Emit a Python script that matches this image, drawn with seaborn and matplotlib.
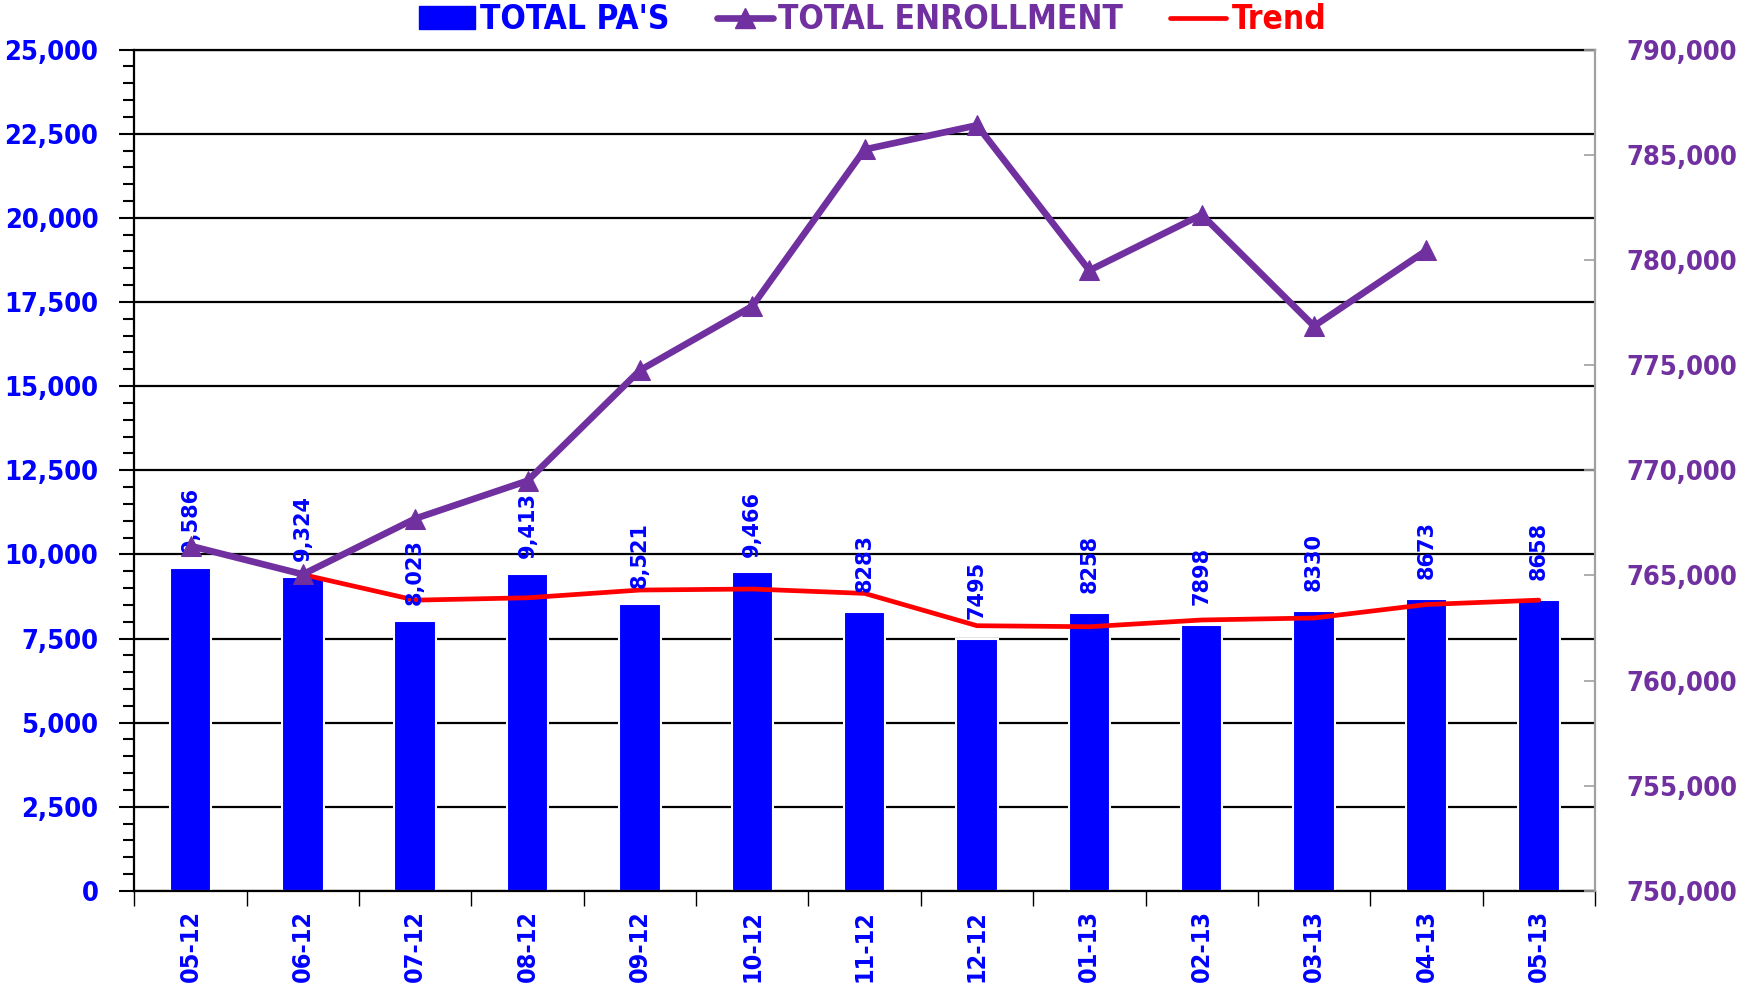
import numpy as np
import pandas as pd
import matplotlib
matplotlib.use("Agg")
import matplotlib.pyplot as plt
import matplotlib.ticker as mticker
from matplotlib.lines import Line2D
from matplotlib.patches import Patch
import seaborn as sns

# data
months = ["05-12", "06-12", "07-12", "08-12", "09-12", "10-12", "11-12",
          "12-12", "01-13", "02-13", "03-13", "04-13", "05-13"]
total_pas = [9586, 9324, 8023, 9413, 8521, 9466, 8283, 7495, 8258, 7898, 8330, 8673, 8658]
pa_labels = ["9,586", "9,324", "8,023", "9,413", "8,521", "9,466", "8283",
             "7495", "8258", "7898", "8330", "8673", "8658"]
enrollment = [766400, 765050, 767700, 769500, 774750, 777800, 785250,
              786400, 779500, 782150, 776850, 780450, np.nan]
trend = [np.nan, 9400, 8640, 8710, 8940, 8970, 8840, 7880, 7850, 8050, 8110, 8510, 8640]

BLUE = "#0000FF"
PURPLE = "#7030A0"
RED = "#FF0000"

sns.set_style("white")
plt.rcParams["font.family"] = ["DejaVu Sans"]

df = pd.DataFrame({"month": months, "pas": total_pas, "enroll": enrollment, "trend": trend})
df["pos"] = np.arange(len(months))

fig = plt.figure(figsize=(17.45, 9.91), dpi=100)
ax = fig.add_axes([0.077, 0.101, 0.837, 0.849])

# horizontal gridlines behind bars
ax.set_axisbelow(True)
ax.yaxis.grid(True, color="black", linewidth=1.6)

sns.barplot(data=df, x="month", y="pas", color=BLUE, saturation=1, width=0.37,
            edgecolor="white", linewidth=1.5, ax=ax, zorder=2)
sns.lineplot(data=df, x="pos", y="trend", color=RED, linewidth=3.4, ax=ax, zorder=4)

for i, (v, lab) in enumerate(zip(total_pas, pa_labels)):
    ax.text(i, v + 1450, lab, rotation=90, ha="center", va="center",
            color=BLUE, fontsize=15, fontweight="bold", zorder=6)

tick_font = {"stretch": "condensed", "weight": "bold"}

ax.set_xlim(-0.5, len(months) - 0.5)
ax.set_ylim(0, 25000)
ax.yaxis.set_major_locator(mticker.MultipleLocator(2500))
ax.yaxis.set_minor_locator(mticker.MultipleLocator(500))
ax.yaxis.set_major_formatter(mticker.FuncFormatter(lambda v, p: f"{v:,.0f}"))
ax.tick_params(axis="y", which="major", left=True, length=11, width=1.5, color="black",
               labelsize=19.5, labelcolor=BLUE, pad=15)
ax.tick_params(axis="y", which="minor", left=True, length=8, width=1.5, color="black")
for t in ax.get_yticklabels():
    t.set_fontstretch("condensed")
    t.set_fontweight("bold")

ax.set_xticks(np.arange(len(months)))
ax.set_xticklabels(months, rotation=90, fontsize=18, color=BLUE, **tick_font)
ax.xaxis.set_minor_locator(mticker.FixedLocator(np.arange(len(months) + 1) - 0.5))
ax.tick_params(axis="x", which="major", length=0, pad=14)
ax.tick_params(axis="x", which="minor", bottom=True, length=11, width=1, color="black")
ax.set_xlabel("")
ax.set_ylabel("")
for s in ["left", "bottom", "top"]:
    ax.spines[s].set_color("black")
    ax.spines[s].set_linewidth(1.6)
ax.spines["right"].set_visible(False)

ax2 = ax.twinx()
sns.lineplot(data=df, x="pos", y="enroll", color=PURPLE, linewidth=4.8, marker="^",
             markersize=15, markeredgecolor=PURPLE, ax=ax2, zorder=5)
ax2.set_ylim(750000, 790000)
ax2.yaxis.set_major_locator(mticker.MultipleLocator(5000))
ax2.yaxis.set_major_formatter(mticker.FuncFormatter(lambda v, p: f"{v:,.0f}"))
ax2.tick_params(axis="y", right=True, direction="in", length=8, width=1.2, color="#A0A0A0",
                labelsize=19.5, labelcolor=PURPLE, pad=23)
for t in ax2.get_yticklabels():
    t.set_fontstretch("condensed")
    t.set_fontweight("bold")
ax2.set_ylabel("")
ax2.set_xlabel("")
ax2.spines["right"].set_color("#A0A0A0")
ax2.spines["right"].set_linewidth(1.6)
for s in ["left", "bottom", "top"]:
    ax2.spines[s].set_visible(False)
ax2.grid(False)
ax2.set_xlim(-0.5, len(months) - 0.5)
if ax2.get_legend():
    ax2.get_legend().remove()
if ax.get_legend():
    ax.get_legend().remove()

handles = [
    Patch(facecolor=BLUE, edgecolor=BLUE),
    Line2D([0], [0], color=PURPLE, linewidth=4.8, marker="^", markersize=15),
    Line2D([0], [0], color=RED, linewidth=3.4),
]
leg = fig.legend(handles, ["TOTAL PA'S", "TOTAL ENROLLMENT", "Trend"], loc="center",
                 bbox_to_anchor=(0.5, 0.980), ncol=3, frameon=False, handlelength=1.7,
                 handletextpad=0.15, columnspacing=1.4,
                 prop={"family": "DejaVu Sans", "stretch": "condensed", "weight": "bold", "size": 24})
for txt, c in zip(leg.get_texts(), [BLUE, PURPLE, RED]):
    txt.set_color(c)

fig.savefig("out.png", dpi=100)
